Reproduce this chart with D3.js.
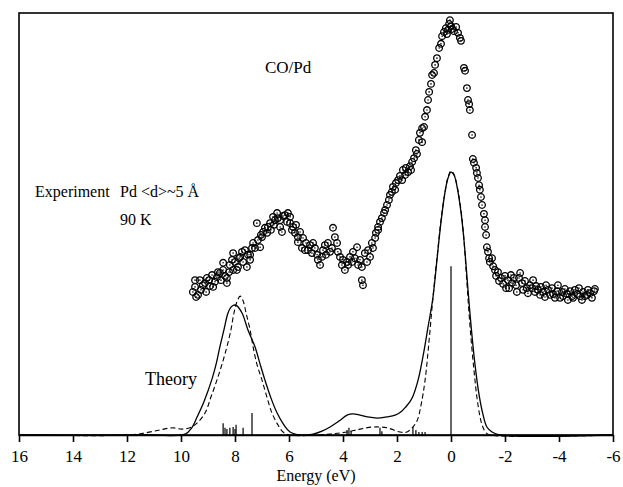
<!DOCTYPE html>
<html>
<head>
<meta charset="utf-8">
<script src="https://cdnjs.cloudflare.com/ajax/libs/d3/7.8.5/d3.min.js"></script>
<style>
body { margin: 0; background: #fff; }
svg { display: block; }
</style>
</head>
<body>
<svg id="chart" width="623" height="487"></svg>
<script>
// experiment, CO/Pd (eV, arb. units)
var expEnergy = [
	9.56, 9.48, 9.48, 9.44, 9.37, 9.30, 9.26, 9.19, 9.11, 9.07, 9.04, 8.96, 8.93, 8.85, 8.81, 8.74, 8.67, 8.63, 8.56, 8.52,
	8.44, 8.44, 8.37, 8.30, 8.30, 8.22, 8.19, 8.11, 8.07, 8.07, 8.00, 7.93, 7.89, 7.85, 7.81, 7.74, 7.70, 7.63, 7.56, 7.52,
	7.44, 7.44, 7.37, 7.33, 7.26, 7.19, 7.15, 7.07, 7.04, 7.00, 6.96, 6.89, 6.81, 6.78, 6.70, 6.67, 6.59, 6.56, 6.52, 6.44,
	6.41, 6.33, 6.33, 6.26, 6.22, 6.15, 6.07, 6.04, 5.96, 5.96, 5.89, 5.85, 5.78, 5.74, 5.67, 5.67, 5.59, 5.52, 5.48, 5.41,
	5.37, 5.30, 5.22, 5.15, 5.11, 5.04, 4.96, 4.93, 4.85, 4.78, 4.74, 4.67, 4.63, 4.56, 4.48, 4.41, 4.37, 4.30, 4.22, 4.19,
	4.11, 4.04, 4.00, 3.93, 3.85, 3.81, 3.74, 3.67, 3.63, 3.56, 3.48, 3.44, 3.37, 3.30, 3.30, 3.26, 3.19, 3.11, 3.07, 3.00,
	2.93, 2.89, 2.81, 2.78, 2.70, 2.70, 2.63, 2.56, 2.48, 2.44, 2.37, 2.30, 2.26, 2.19, 2.15, 2.07, 2.04, 1.96, 1.89, 1.81,
	1.78, 1.70, 1.67, 1.59, 1.52, 1.48, 1.44, 1.37, 1.30, 1.26, 1.19, 1.15, 1.07, 1.07, 1.00, 0.96, 0.89, 0.85, 0.81, 0.74,
	0.70, 0.63, 0.59, 0.52, 0.44, 0.37, 0.33, 0.26, 0.19, 0.15, 0.11, 0.07, 0.04, 0.00, -0.04, -0.11, -0.19, -0.26, -0.33, -0.37,
	-0.48, -0.52, -0.59, -0.63, -0.67, -0.70, -0.78, -0.81, -0.85, -0.93, -0.96, -1.00, -1.04, -1.07, -1.11, -1.15, -1.22, -1.26, -1.26, -1.30,
	-1.33, -1.37, -1.41, -1.44, -1.52, -1.56, -1.63, -1.67, -1.74, -1.78, -1.85, -1.93, -2.00, -2.04, -2.11, -2.15, -2.22, -2.26, -2.33, -2.41,
	-2.44, -2.52, -2.56, -2.63, -2.67, -2.74, -2.81, -2.85, -2.93, -3.00, -3.04, -3.11, -3.15, -3.22, -3.30, -3.33, -3.41, -3.48, -3.52, -3.59,
	-3.67, -3.74, -3.78, -3.85, -3.93, -3.96, -4.04, -4.11, -4.15, -4.22, -4.30, -4.33, -4.41, -4.48, -4.52, -4.59, -4.67, -4.74, -4.78, -4.85,
	-4.89, -4.96, -5.04, -5.07, -5.15, -5.22, -5.30, -5.33
];
var expIntensity = [
	33.9, 36.7, 35.1, 32.7, 33.2, 36.7, 34.4, 35.5, 36.0, 33.9, 37.2, 36.7, 35.3, 37.9, 35.1, 36.3, 37.4, 38.6, 38.4, 36.7,
	39.1, 40.8, 37.7, 36.0, 37.2, 38.6, 40.3, 41.5, 43.1, 39.1, 41.0, 39.1, 39.8, 41.9, 42.2, 43.4, 41.0, 43.8, 39.8, 42.7,
	41.5, 42.7, 44.3, 45.5, 44.3, 50.2, 46.2, 44.5, 47.4, 46.9, 48.1, 49.1, 47.9, 49.3, 50.2, 48.6, 51.7, 49.8, 50.9, 52.6,
	51.4, 50.9, 49.3, 48.1, 51.9, 52.1, 50.5, 52.6, 51.7, 50.2, 48.6, 49.3, 47.9, 49.8, 46.9, 45.7, 48.1, 44.3, 46.7, 43.8,
	45.5, 43.8, 45.0, 43.1, 45.5, 44.3, 42.7, 41.5, 40.3, 42.2, 43.8, 45.0, 42.7, 45.5, 43.4, 44.3, 49.1, 46.9, 45.5, 43.4,
	42.2, 40.3, 41.5, 39.1, 41.0, 40.3, 42.2, 41.0, 43.4, 41.9, 44.5, 40.3, 41.5, 39.8, 36.7, 35.5, 43.1, 41.0, 43.8, 42.2,
	45.5, 44.3, 46.7, 47.9, 49.3, 48.6, 50.5, 51.4, 52.6, 53.3, 54.5, 55.7, 56.9, 57.6, 58.8, 58.1, 59.7, 60.4, 61.4, 60.4,
	62.8, 61.6, 63.3, 62.3, 63.7, 62.8, 64.7, 65.6, 67.5, 66.6, 69.9, 71.6, 69.4, 72.7, 73.0, 75.4, 77.0, 79.4, 81.3, 83.2,
	85.3, 85.8, 87.7, 89.3, 91.7, 92.7, 94.5, 95.5, 96.4, 95.0, 96.0, 97.4, 98.3, 96.9, 96.2, 95.7, 96.7, 95.3, 94.1, 93.4,
	87.0, 86.3, 82.2, 79.4, 78.4, 77.0, 71.1, 65.4, 64.5, 63.3, 62.1, 60.9, 59.2, 58.1, 56.4, 54.5, 52.4, 50.9, 49.3, 47.4,
	44.5, 43.4, 41.9, 41.0, 41.9, 40.0, 39.1, 37.7, 38.6, 36.5, 37.2, 35.8, 37.7, 34.8, 36.7, 34.8, 37.9, 36.0, 37.2, 35.5,
	33.9, 37.2, 38.4, 36.0, 34.4, 36.5, 34.8, 33.6, 35.5, 34.8, 36.7, 33.9, 35.3, 34.4, 33.2, 35.1, 33.9, 32.7, 35.5, 34.4,
	33.2, 34.8, 33.4, 32.5, 34.1, 35.5, 32.5, 33.9, 32.9, 34.6, 33.4, 32.0, 34.1, 32.9, 32.5, 34.4, 33.4, 34.8, 32.9, 32.0,
	33.9, 32.9, 33.2, 34.4, 33.6, 32.5, 34.1, 34.6
];

// theory, solid curve
var solidEnergy = [16, 11.15, 9.85, 9.59, 9.41, 9.15, 8.85, 8.70, 8.56, 8.41, 8.26, 8.15, 8.04, 7.93, 7.74, 7.52, 7.26, 7.07, 6.89, 6.67,
	6.44, 6.19, 5.96, 5.59, 5.11, 4.78, 4.48, 4.15, 3.85, 3.63, 3.37, 3.11, 2.74, 2.37, 2.07, 1.85, 1.67, 1.52, 1.41, 1.22,
	1.04, 0.85, 0.67, 0.52, 0.37, 0.22, 0.11, 0.00, -0.11, -0.22, -0.37, -0.48, -0.63, -0.74, -0.89, -1.04, -1.19, -1.33, -1.52, -1.81, -6];
var solidIntensity = [0, 0, 0.2, 1.8, 4.2, 7.9, 13.3, 16.8, 20.9, 24.9, 28.9, 30.3, 30.8, 30.6, 28.9, 24.9, 20.9, 16.8, 13.0, 8.8,
	5.2, 2.4, 0.7, 0, 0.2, 0.9, 1.9, 3.3, 4.7, 5.0, 4.7, 4.3, 4.0, 4.3, 4.7, 5.5, 6.7, 7.9, 9.2, 13.0,
	18.5, 25.6, 32.5, 41.5, 50.5, 57.6, 60.9, 62.3, 61.6, 59.0, 52.8, 46.2, 34.4, 26.1, 16.6, 9.5, 4.7, 1.9, 0.7, 0, 0];

// theory, dashed curve
var dashedEnergy = [16, 11.89, 11.33, 10.78, 10.33, 9.96, 9.67, 9.41, 9.11, 8.89, 8.67, 8.48, 8.30, 8.15, 8.04, 7.93, 7.81, 7.70, 7.59, 7.44,
	7.33, 7.19, 7.00, 6.81, 6.63, 6.41, 6.22, 5.96, 4.48, 4.11, 3.85, 3.37, 2.89, 2.37, 1.89, 1.63, 1.44, 1.26, 1.11, 0.96,
	0.81, 0.67, 0.52, 0.37, 0.22, 0.11, 0.00, -0.11, -0.22, -0.37, -0.48, -0.59, -0.70, -0.85, -1.00, -1.15, -1.30, -1.44, -6];
var dashedIntensity = [0, 0, 0.5, 1.2, 1.7, 1.4, 1.7, 2.8, 5.2, 9.0, 13.0, 16.8, 20.9, 24.9, 28.9, 31.5, 32.9, 31.8, 28.9, 24.9,
	20.9, 16.8, 13.0, 8.8, 5.2, 2.4, 0.7, 0, 0.2, 0.5, 0.7, 1.4, 1.9, 1.7, 0.7, 0.7, 1.7, 3.3, 7.1, 13.0,
	22.5, 32.5, 41.9, 50.9, 57.6, 61.1, 62.6, 61.8, 59.2, 53.3, 46.2, 36.0, 26.1, 15.4, 7.1, 2.4, 0.5, 0, 0];

// theory, line spectrum
var stickEnergy = [8.44, 8.37, 8.30, 8.19, 8.07, 8.00, 7.96, 7.70, 7.37, 3.85, 3.78, 3.70, 2.63, 2.56, 1.41, 1.30, 1.19, 1.07, 0.96, 0.00];
var stickHeight = [2.8, 1.7, 1.4, 1.7, 1.9, 1.4, 2.4, 1.7, 5.2, 1.2, 1.7, 0.9, 1.7, 0.9, 1.9, 1.2, 0.7, 0.7, 0.7, 40.0];

var xTicks = [16, 14, 12, 10, 8, 6, 4, 2, 0, -2, -4, -6];

var margin = { top: 13, right: 10, bottom: 52, left: 19 };
var width = 623 - margin.left - margin.right;
var height = 487 - margin.top - margin.bottom;
var serif = "'Times New Roman', Times, 'Liberation Serif', Tinos, 'Nimbus Roman', 'FreeSerif', 'Noto Serif', 'DejaVu Serif', serif";

var svg = d3.select('#chart').attr('font-family', serif);
var g = svg.append('g').attr('transform', 'translate(' + margin.left + ',' + margin.top + ')');

var x = d3.scaleLinear().domain([16, -6]).range([0, width]);
var y = d3.scaleLinear().domain([0, 100]).range([height, 0]);

// frame
g.append('rect')
	.attr('width', width).attr('height', height)
	.attr('fill', 'none').attr('stroke', '#000').attr('stroke-width', 1.6);

// axis
var xAxis = g.append('g')
	.attr('transform', 'translate(0,' + height + ')')
	.call(d3.axisBottom(x).tickValues(xTicks).tickSize(7).tickSizeOuter(0).tickPadding(8));
xAxis.attr('font-family', serif);
xAxis.select('.domain').attr('stroke-width', 1.6);
xAxis.selectAll('.tick line').attr('stroke-width', 1.6);
xAxis.selectAll('.tick text')
	.attr('font-size', 17).attr('fill', '#000')
	.text(function (d) { return d < 0 ? '-' + (-d) : d; });

g.append('text')
	.attr('x', x(5)).attr('y', height + 46)
	.attr('text-anchor', 'middle').attr('font-size', 16)
	.text('Energy (eV)');

// sticks
g.selectAll('line.stick')
	.data(d3.range(stickEnergy.length))
	.enter().append('line')
	.attr('class', 'stick')
	.attr('x1', function (i) { return x(stickEnergy[i]); })
	.attr('x2', function (i) { return x(stickEnergy[i]); })
	.attr('y1', y(0))
	.attr('y2', function (i) { return y(stickHeight[i]); })
	.attr('stroke', '#000').attr('stroke-width', 1.2);

function curve(es, is) {
	return d3.line()
		.x(function (i) { return x(es[i]); })
		.y(function (i) { return y(is[i]); })
		.curve(d3.curveCatmullRom.alpha(0.5))(d3.range(es.length));
}

g.append('path')
	.attr('d', curve(dashedEnergy, dashedIntensity))
	.attr('fill', 'none').attr('stroke', '#000').attr('stroke-width', 1.1)
	.attr('stroke-dasharray', '5,3');

g.append('path')
	.attr('d', curve(solidEnergy, solidIntensity))
	.attr('fill', 'none').attr('stroke', '#000').attr('stroke-width', 1.3);

// experimental points: open circle with a dot
var pts = g.selectAll('g.pt')
	.data(d3.range(expEnergy.length))
	.enter().append('g')
	.attr('class', 'pt')
	.attr('transform', function (i) { return 'translate(' + x(expEnergy[i]) + ',' + y(expIntensity[i]) + ')'; });
pts.append('circle').attr('r', 3.3).attr('fill', 'none').attr('stroke', '#000').attr('stroke-width', 1.3);
pts.append('circle').attr('r', 0.8).attr('fill', '#000');

// labels
function label(px, py, size, txt) {
	g.append('text').attr('x', px).attr('y', py)
		.attr('font-size', size)
		.text(txt);
}
label(246, 60, 17, 'CO/Pd');
label(16, 184, 16, 'Experiment');
label(101, 184, 16, 'Pd <d>~5 \u00C5');
label(101, 212, 16, '90 K');
label(126, 372, 18, 'Theory');
</script>
</body>
</html>
